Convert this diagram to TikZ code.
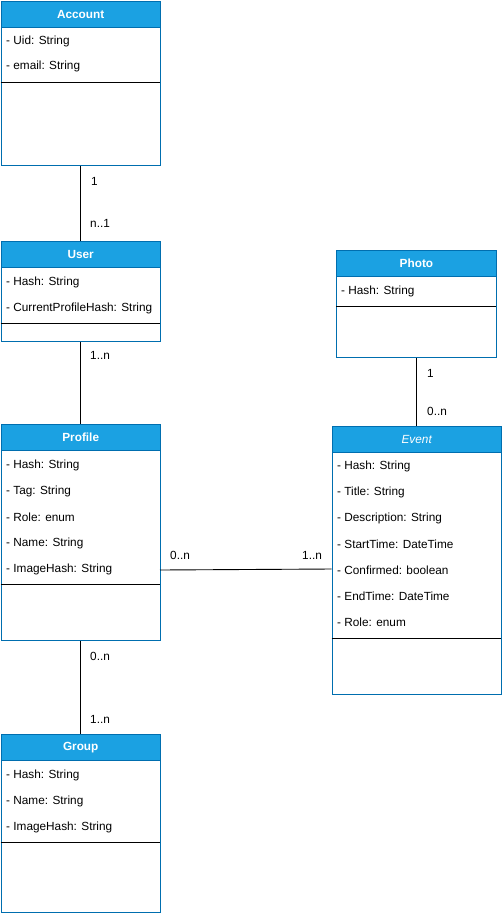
\documentclass[tikz,border=0pt]{standalone}
\usepackage{fontspec}
\setmainfont{Liberation Sans}
\definecolor{hdr}{HTML}{1BA1E2}
\definecolor{bord}{HTML}{006EAF}
\begin{document}
\begin{tikzpicture}[x=1pt,y=-1pt,
  classbox/.style={draw=bord,fill=white,line width=0.9pt,anchor=north west,inner sep=0pt},
  hdrbox/.style={draw=bord,fill=hdr,line width=0.9pt,anchor=north west,inner sep=0pt,minimum height=26pt,
     text=white,font=\fontsize{11.8}{13}\selectfont\bfseries},
  attr/.style={anchor=west,inner sep=0pt,yshift=-1.5pt,font=\fontsize{11.8}{13}\selectfont},
  sep/.style={line width=0.9pt,black},
  conn/.style={line width=0.9pt,black},
  mult/.style={anchor=west,inner sep=0pt,yshift=-1.5pt,font=\fontsize{11.8}{13}\selectfont}]
\useasboundingbox (0,0) rectangle (502,914);
% Account
\node[classbox,minimum width=159.5pt,minimum height=164pt] (account) at (0.5,1) {};
\node[hdrbox,minimum width=159.5pt] (accounth) at (0.5,1) {Account};
\node[attr] (a1) at (6,40) {- Uid: String};
\node[attr] (a2) at (6,65) {- email: String};
\draw[sep] (0.5,82) -- (160,82);
% User
\node[classbox,minimum width=159.5pt,minimum height=100pt] (user) at (0.5,241) {};
\node[hdrbox,minimum width=159.5pt] (userh) at (0.5,241) {User};
\node[attr] (u1) at (6,281) {- Hash: String};
\node[attr] (u2) at (6,307) {- CurrentProfileHash: String};
\draw[sep] (0.5,323) -- (160,323);
% Profile
\node[classbox,minimum width=159.5pt,minimum height=216pt] (profile) at (0.5,424) {};
\node[hdrbox,minimum width=159.5pt] (profileh) at (0.5,424) {Profile};
\node[attr] (p1) at (6,464) {- Hash: String};
\node[attr] (p2) at (6,490) {- Tag: String};
\node[attr] (p3) at (6,516) {- Role: enum};
\node[attr] (p4) at (6,542) {- Name: String};
\node[attr] (p5) at (6,568) {- ImageHash: String};
\draw[sep] (0.5,584) -- (160,584);
% Group
\node[classbox,minimum width=159.5pt,minimum height=178pt] (group) at (0.5,734) {};
\node[hdrbox,minimum width=159.5pt] (grouph) at (0.5,734) {Group};
\node[attr] (g1) at (6,774) {- Hash: String};
\node[attr] (g2) at (6,800) {- Name: String};
\node[attr] (g3) at (6,826) {- ImageHash: String};
\draw[sep] (0.5,842) -- (160,842);
% Photo
\node[classbox,minimum width=160pt,minimum height=107pt] (photo) at (336,250) {};
\node[hdrbox,minimum width=160pt] (photoh) at (336,250) {Photo};
\node[attr] (ph1) at (341,290) {- Hash: String};
\draw[sep] (336,306) -- (496,306);
% Event
\node[classbox,minimum width=169.5pt,minimum height=268pt] (event) at (331.5,426) {};
\node[hdrbox,minimum width=169.5pt,font=\fontsize{11.8}{13}\selectfont\itshape] (eventh) at (331.5,426) {Event};
\node[attr] (e1) at (337,465) {- Hash: String};
\node[attr] (e2) at (337,491) {- Title: String};
\node[attr] (e3) at (337,517) {- Description: String};
\node[attr] (e4) at (337,543) {- StartTime: DateTime};
\node[attr] (e5) at (337,569) {- Confirmed: boolean};
\node[attr] (e6) at (337,595) {- EndTime: DateTime};
\node[attr] (e7) at (337,621) {- Role: enum};
\draw[sep] (331.5,638) -- (501,638);
% connectors
\draw[conn] (account.south) -- (user.north);
\node[mult] (m1) at (91,180) {1};
\node[mult] (m2) at (90,222) {n..1};
\draw[conn] (user.south) -- (profile.north);
\node[mult] (m3) at (90,354) {1..n};
\draw[conn] (profile.south) -- (group.north);
\node[mult] (m4) at (90,655) {0..n};
\node[mult] (m5) at (90,718) {1..n};
\draw[conn] (photo.south) -- (photo.south |- event.north);
\node[mult] (m6) at (427,372) {1};
\node[mult] (m7) at (427,410) {0..n};
\coordinate (pe1) at (160,570);
\coordinate (pe2) at (331.5,569);
\draw[conn] (pe1) -- (pe2);
\node[mult] (m8) at (170,554) {0..n};
\node[mult] (m9) at (302,554) {1..n};
\end{tikzpicture}
\end{document}
